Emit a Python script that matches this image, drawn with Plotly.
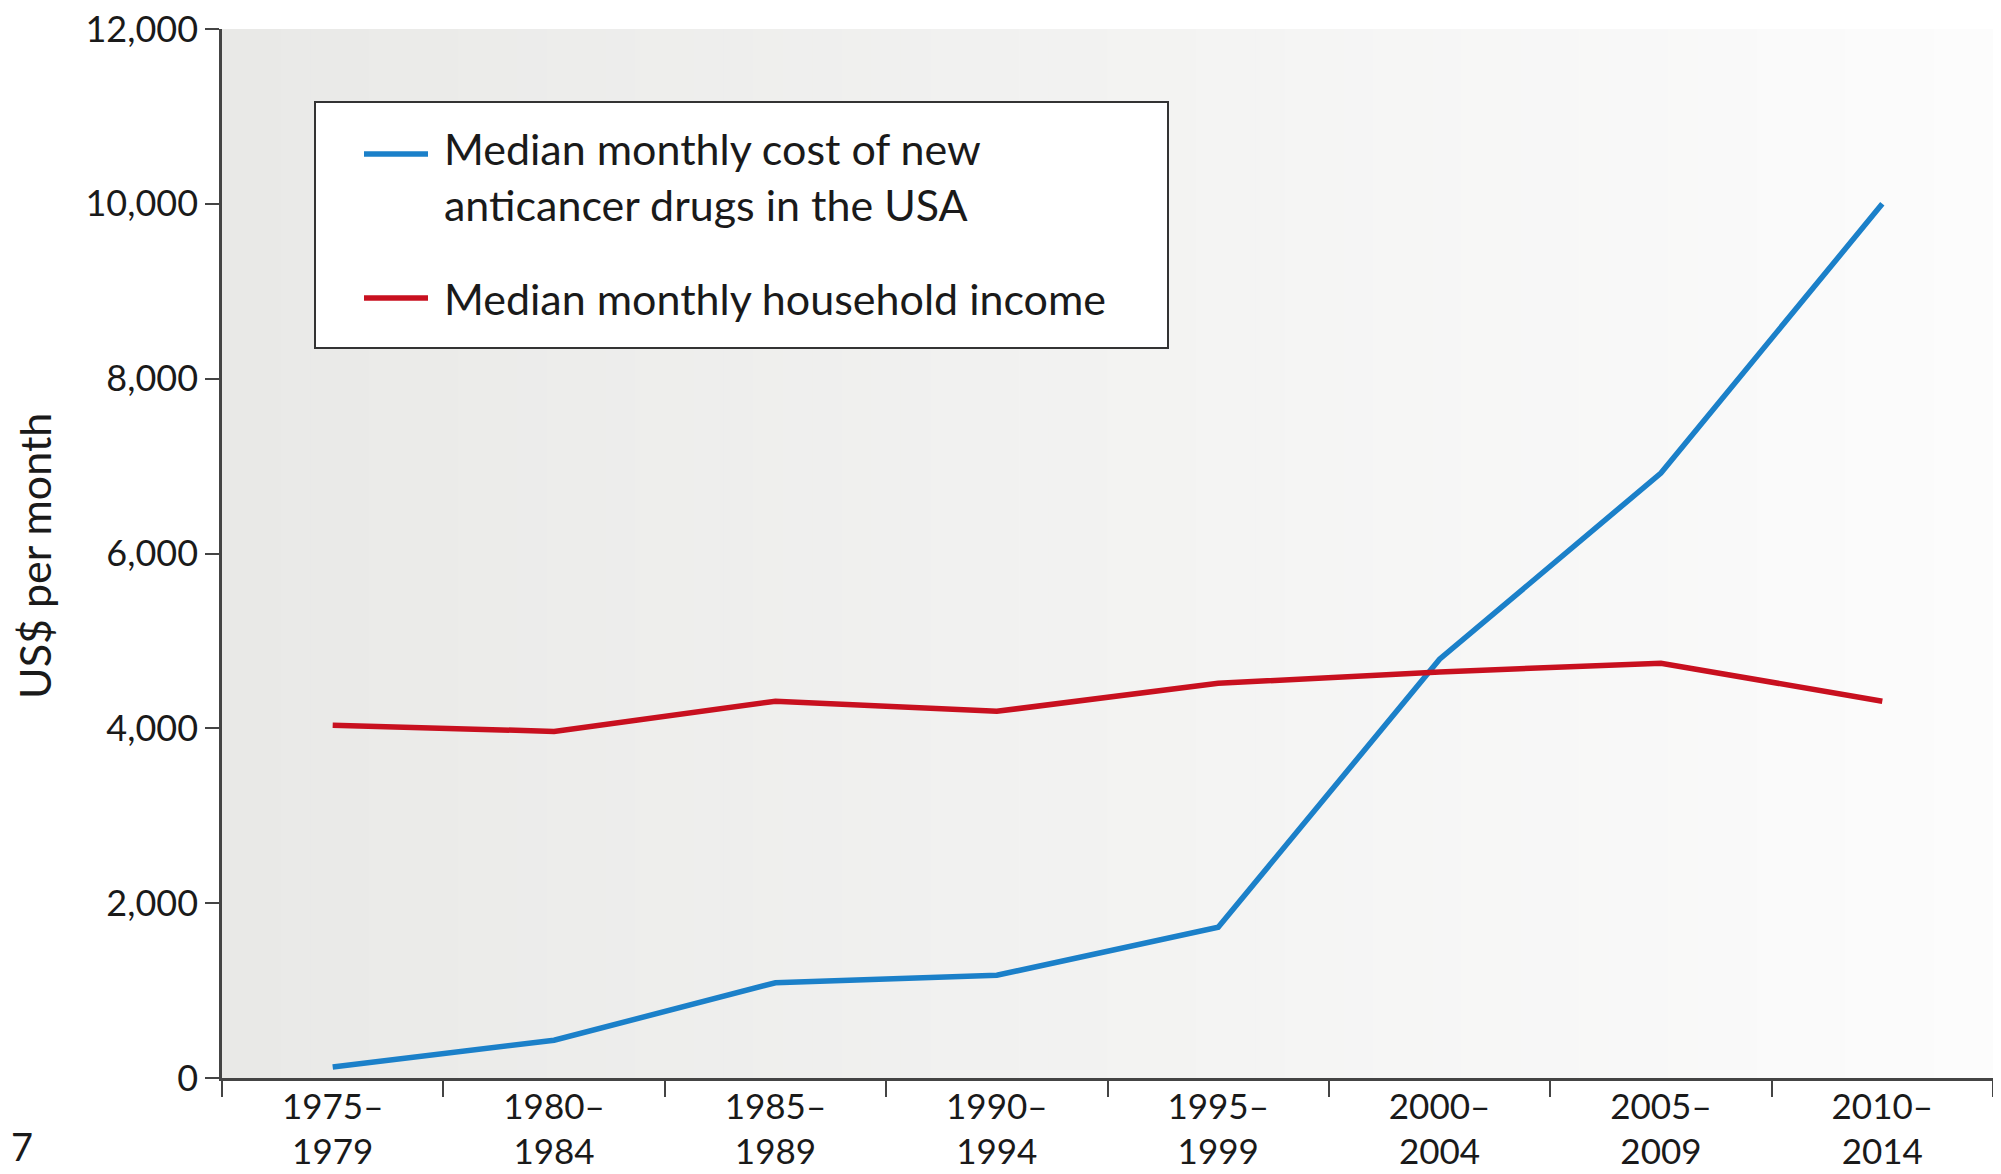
import plotly.graph_objects as go

# ---- data ----
periods = ["1975–<br>1979", "1980–<br>1984", "1985–<br>1989", "1990–<br>1994",
           "1995–<br>1999", "2000–<br>2004", "2005–<br>2009", "2010–<br>2014"]
drug_cost = [125, 432, 1090, 1175, 1725, 4790, 6920, 10000]
household_income = [4035, 3965, 4310, 4195, 4515, 4645, 4745, 4310]
y_ticks = [0, 2000, 4000, 6000, 8000, 10000, 12000]
legend_drug = "Median monthly cost of new<br>anticancer drugs in the USA"
legend_income = "Median monthly household income"

BLUE = "#1b80c9"
RED = "#c8101f"
AXIS = "#444444"
FONT = "Lato"

# page body has an 8px margin: compensate so the picture lands at 2001x1174
OFF = 8
SCREEN_W, SCREEN_H = 2001, 1174
W, H = SCREEN_W - OFF, SCREEN_H - OFF
# plot area in screen pixels
PX0, PX1, PY0, PY1 = 222, 1993, 29, 1078
L, R, T, B = PX0 - OFF, (W + OFF) - PX1, PY0 - OFF, (H + OFF) - PY1
PW, PH = PX1 - PX0, PY1 - PY0


def px(x):
    return (x - PX0) / PW


def py(y):
    return 1 - (y - PY0) / PH


fig = go.Figure()
fig.add_trace(go.Scatter(x=periods, y=drug_cost, mode="lines",
                         line=dict(color=BLUE, width=5.5),
                         name=legend_drug.replace("<br>", " "), showlegend=False))
fig.add_trace(go.Scatter(x=periods, y=household_income, mode="lines",
                         line=dict(color=RED, width=5.5),
                         name=legend_income, showlegend=False))

shapes = []
# gradient background (left grey -> right white)
n = 60
c0 = (233, 233, 231)
c1 = (252, 252, 252)
for i in range(n):
    t = i / (n - 1)
    c = tuple(int(round(c0[k] + (c1[k] - c0[k]) * t)) for k in range(3))
    shapes.append(dict(type="rect", xref="paper", yref="paper",
                       x0=i / n, x1=(i + 1) / n + 0.002, y0=0, y1=1,
                       fillcolor="rgb(%d,%d,%d)" % c, line=dict(width=0),
                       layer="below"))
# legend box
shapes.append(dict(type="rect", xref="paper", yref="paper",
                   x0=px(315), x1=px(1168), y0=py(348), y1=py(102),
                   fillcolor="white", line=dict(color="#333333", width=2),
                   layer="above"))
shapes.append(dict(type="line", xref="paper", yref="paper",
                   x0=px(364), x1=px(428), y0=py(154), y1=py(154),
                   line=dict(color=BLUE, width=5.5), layer="above"))
shapes.append(dict(type="line", xref="paper", yref="paper",
                   x0=px(364), x1=px(428), y0=py(298), y1=py(298),
                   line=dict(color=RED, width=5.5), layer="above"))

annotations = [
    dict(text=legend_drug, xref="paper", yref="paper", align="left",
         x=px(442), y=py(121), xanchor="left", yanchor="top", showarrow=False,
         font=dict(family=FONT, size=43, color="#1a1a1a")),
    dict(text=legend_income, xref="paper", yref="paper", align="left",
         x=px(442), y=py(298), xanchor="left", yanchor="middle", showarrow=False,
         font=dict(family=FONT, size=43, color="#1a1a1a")),
    dict(text="7", xref="paper", yref="paper",
         x=px(9), y=py(1146), xanchor="left", yanchor="middle", showarrow=False,
         font=dict(family=FONT, size=38, color="#1a1a1a")),
    dict(text="US$ per month", xref="paper", yref="paper",
         x=px(34), y=py(556), xanchor="center", yanchor="middle",
         textangle=-90, showarrow=False,
         font=dict(family=FONT, size=43, color="#1a1a1a")),
]

fig.update_layout(
    width=W, height=H,
    margin=dict(l=L, r=R, t=T, b=B, autoexpand=False),
    paper_bgcolor="white", plot_bgcolor="white",
    shapes=shapes, annotations=annotations,
    showlegend=False,
    font=dict(family=FONT, size=36, color="#1a1a1a"),
)
fig.update_xaxes(type="category", range=[-0.5, 7.5], tickson="boundaries",
                 ticks="outside", ticklen=16, tickwidth=2, tickcolor=AXIS,
                 showline=True, linecolor=AXIS, linewidth=2.5,
                 showgrid=False, zeroline=False, automargin=False,
                 ticklabeloverflow="allow", ticklabelstandoff=-4,
                 tickfont=dict(family=FONT, size=35, color="#1a1a1a"))
fig.update_yaxes(range=[0, 12000], tickvals=y_ticks, tickformat=",d",
                 ticks="outside", ticklen=14, tickwidth=2, tickcolor=AXIS,
                 showline=True, linecolor=AXIS, linewidth=2.5,
                 showgrid=False, zeroline=False, automargin=False,
                 ticklabeloverflow="allow",
                 tickfont=dict(family=FONT, size=36, color="#1a1a1a"))

fig.write_html("out.html")
